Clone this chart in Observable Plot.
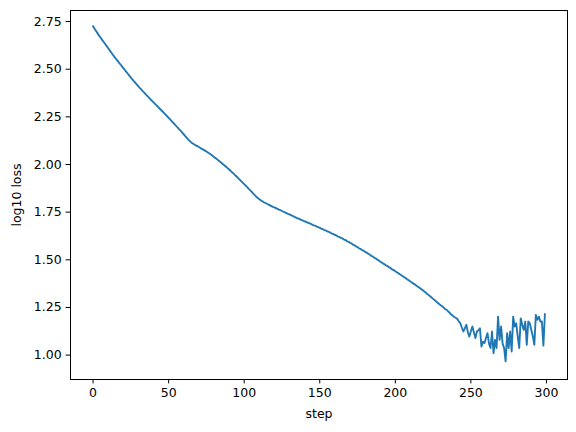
<!DOCTYPE html>
<html>
<head>
<meta charset="utf-8">
<script src="https://cdn.jsdelivr.net/npm/d3@7"></script>
<script src="https://cdn.jsdelivr.net/npm/@observablehq/plot@0.6"></script>
<style>
  html, body { margin: 0; padding: 0; background: white; }
</style>
</head>
<body>
<div id="chart"></div>
<script>
const loss = [
  2.725, 2.712, 2.700, 2.688, 2.676, 2.665, 2.654, 2.643, 2.632, 2.621,
  2.610, 2.599, 2.588, 2.577, 2.566, 2.556, 2.546, 2.536, 2.526, 2.516,
  2.506, 2.496, 2.486, 2.476, 2.466, 2.456, 2.447, 2.437, 2.428, 2.419,
  2.410, 2.401, 2.393, 2.384, 2.376, 2.367, 2.359, 2.351, 2.342, 2.334,
  2.326, 2.318, 2.310, 2.302, 2.294, 2.286, 2.278, 2.270, 2.262, 2.253,
  2.245, 2.237, 2.228, 2.219, 2.211, 2.202, 2.193, 2.184, 2.176, 2.167,
  2.158, 2.149, 2.140, 2.131, 2.123, 2.116, 2.110, 2.105, 2.100, 2.096,
  2.092, 2.087, 2.082, 2.078, 2.073, 2.068, 2.063, 2.058, 2.052, 2.046,
  2.040, 2.034, 2.028, 2.021, 2.015, 2.008, 2.001, 1.995, 1.988, 1.981,
  1.974, 1.967, 1.959, 1.952, 1.944, 1.937, 1.929, 1.921, 1.913, 1.905,
  1.897, 1.889, 1.881, 1.872, 1.864, 1.856, 1.847, 1.839, 1.831, 1.824,
  1.818, 1.812, 1.807, 1.802, 1.798, 1.794, 1.790, 1.786, 1.782, 1.778,
  1.775, 1.771, 1.767, 1.763, 1.760, 1.756, 1.752, 1.749, 1.745, 1.741,
  1.738, 1.734, 1.730, 1.727, 1.723, 1.719, 1.716, 1.712, 1.708, 1.705,
  1.702, 1.699, 1.695, 1.692, 1.689, 1.685, 1.681, 1.679, 1.674, 1.671,
  1.668, 1.663, 1.661, 1.656, 1.654, 1.649, 1.646, 1.643, 1.637, 1.636,
  1.630, 1.628, 1.622, 1.620, 1.615, 1.612, 1.606, 1.604, 1.597, 1.595,
  1.589, 1.586, 1.579, 1.576, 1.570, 1.567, 1.560, 1.557, 1.551, 1.548,
  1.542, 1.538, 1.532, 1.528, 1.521, 1.518, 1.511, 1.508, 1.501, 1.497,
  1.490, 1.486, 1.480, 1.476, 1.470, 1.467, 1.460, 1.456, 1.449, 1.446,
  1.440, 1.435, 1.430, 1.424, 1.419, 1.414, 1.408, 1.403, 1.397, 1.392,
  1.386, 1.381, 1.375, 1.370, 1.364, 1.359, 1.353, 1.347, 1.341, 1.335,
  1.329, 1.322, 1.316, 1.309, 1.302, 1.295, 1.289, 1.282, 1.275, 1.268,
  1.262, 1.256, 1.249, 1.242, 1.237, 1.229, 1.222, 1.213, 1.207, 1.200,
  1.196, 1.190, 1.178, 1.167, 1.145, 1.124, 1.140, 1.159, 1.120, 1.097,
  1.125, 1.150, 1.120, 1.089, 1.124, 1.130, 1.141, 1.045, 1.070, 1.063,
  1.090, 1.115, 1.060, 1.037, 1.124, 1.010, 1.080, 1.037, 1.202, 1.080,
  1.150, 1.060, 1.037, 0.967, 1.115, 1.037, 1.124, 1.019, 1.202, 1.150,
  1.167, 1.100, 1.037, 1.193, 1.159, 1.132, 1.176, 1.054, 1.176, 1.167,
  1.132, 1.100, 1.054, 1.211, 1.185, 1.202, 1.176, 1.176, 1.050, 1.215
];
const xTicks = [0, 50, 100, 150, 200, 250, 300];
const yTicks = [1.00, 1.25, 1.50, 1.75, 2.00, 2.25, 2.50, 2.75];
const xLabel = "step";
const yLabel = "log10 loss";

const data = loss.map((v, i) => ({step: i, loss: v}));

const chart = Plot.plot({
  width: 576,
  height: 432,
  marginLeft: 70,
  marginRight: 9,
  marginTop: 10,
  marginBottom: 53,
  style: {fontFamily: "DejaVu Sans", fontSize: "12.5px", color: "black", background: "white", overflow: "visible"},
  x: {domain: [-14.95, 313.95]},
  y: {domain: [0.872, 2.808]},
  marks: [
    Plot.line(data, {x: "step", y: "loss", stroke: "#1f77b4", strokeWidth: 1.875, strokeLinejoin: "round", strokeLinecap: "square"}),
    Plot.frame({stroke: "black", strokeWidth: 1}),
    Plot.axisX(xTicks, {tickSize: 4.4, tickPadding: 4.4, tickFormat: d => String(d), fontSize: 12.5,
      label: xLabel, labelAnchor: "center", labelOffset: 38, labelArrow: "none"}),
    Plot.axisY(yTicks, {tickSize: 4.4, tickPadding: 4.4, tickFormat: d => d.toFixed(2), fontSize: 12.5,
      label: yLabel, labelAnchor: "center", labelOffset: 58, labelArrow: "none"})
  ]
});
document.getElementById("chart").appendChild(chart);
</script>
</body>
</html>
